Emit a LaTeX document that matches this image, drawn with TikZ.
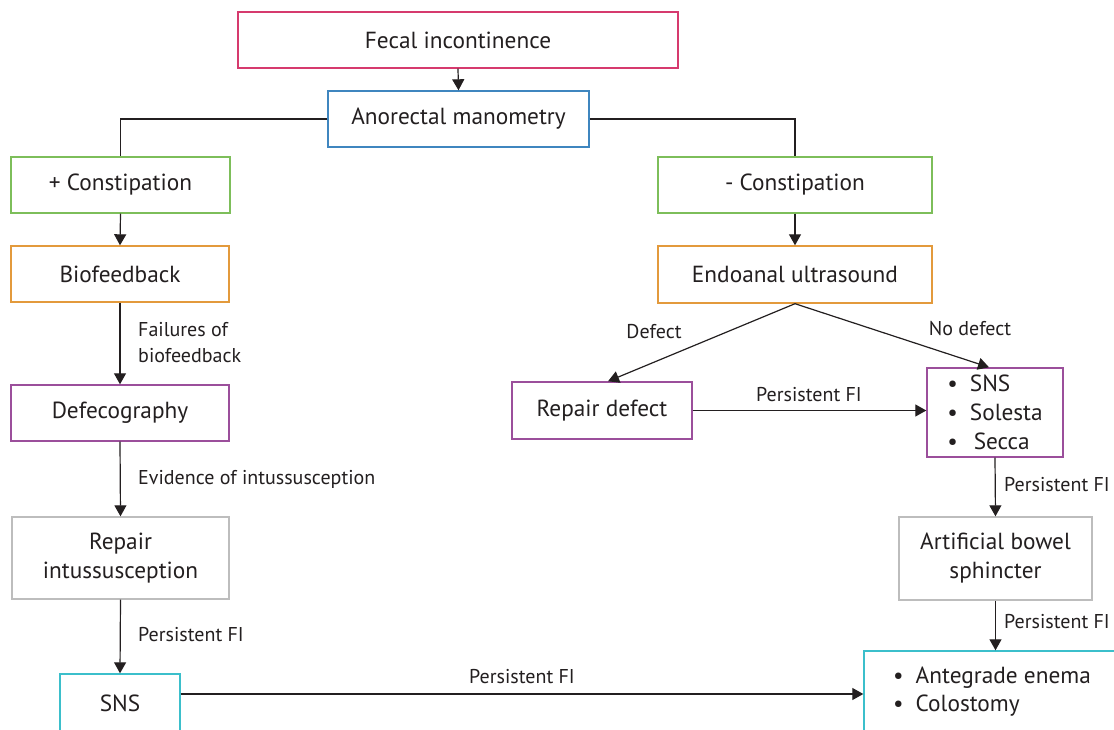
\documentclass[tikz,border=0pt]{standalone}
\usepackage{fontspec}
\setmainfont{PT Sans}
\usetikzlibrary{arrows.meta,positioning}
\definecolor{pinkc}{HTML}{D63A6E}
\definecolor{bluec}{HTML}{3F86BF}
\definecolor{greenc}{HTML}{7DBE5A}
\definecolor{orangec}{HTML}{E39A3C}
\definecolor{purplec}{HTML}{9B4F9B}
\definecolor{grayc}{HTML}{BDBDBD}
\definecolor{cyanc}{HTML}{3BBFCB}
\definecolor{txt}{HTML}{231F20}
\newcommand{\boxfont}{\fontsize{23.3}{28}\selectfont}
\newcommand{\lblfont}{\fontsize{20}{26}\selectfont}
\tikzset{
  box/.style={draw, line width=1.4pt, inner sep=0pt, align=center, font=\boxfont, text=txt, minimum height=56pt},
  lbl/.style={font=\lblfont, text=txt, inner sep=0pt, anchor=west, align=left},
  arr/.style={draw=txt, line width=1.2pt, -{Triangle[length=11pt,width=12pt]}},
  conn/.style={draw=txt, line width=1.2pt},
}
\begin{document}
\begin{tikzpicture}[x=1pt,y=-1pt]
\useasboundingbox (0,0) rectangle (1114,730);
\clip (0,0) rectangle (1114,730);
\fill[white] (0,0) rectangle (1114,730);
% nodes
\node[box, draw=pinkc, minimum width=440pt] (fecal) at (458,40) {Fecal incontinence};
\node[box, draw=bluec, minimum width=261pt] (ano) at (458.5,119) {Anorectal manometry};
\node[box, draw=greenc, minimum width=219pt] (pcon) at (120.5,185) {+ Constipation};
\node[box, draw=greenc, minimum width=274pt] (mcon) at (795,185) {- Constipation};
\node[box, draw=orangec, minimum width=218pt] (bio) at (120,274) {Biofeedback};
\node[box, draw=orangec, minimum width=274pt, minimum height=57pt] (endo) at (795,274.5) {Endoanal ultrasound};
\node[box, draw=purplec, minimum width=218pt] (defeco) at (120,413) {Defecography};
\node[box, draw=grayc, minimum width=217pt, minimum height=82pt, font=\fontsize{23.3}{29}\selectfont] (repint) at (120.5,558) {Repair\\intussusception};
\node[box, draw=cyanc, minimum width=120pt, minimum height=58pt] (sns) at (120,703) {SNS};
\node[box, draw=purplec, minimum width=180pt, minimum height=57pt] (repdef) at (602,410.5) {Repair defect};
\node[box, draw=purplec, minimum width=136pt, minimum height=89pt, align=left, font=\fontsize{23.3}{29}\selectfont] (list) at (995,412.5)
  {\textbullet\hspace{12pt}SNS\\\textbullet\hspace{12pt}Solesta\\\textbullet\hspace{12pt}\,Secca};
\node[box, draw=grayc, minimum width=193pt, minimum height=83pt, font=\fontsize{23.3}{29}\selectfont] (abs) at (995.5,558.5) {Artificial bowel\\sphincter};
\node[box, draw=cyanc, minimum width=256pt, minimum height=82pt, align=left, font=\fontsize{23.3}{28}\selectfont] (ante) at (992,692)
  {\textbullet\hspace{12pt}Antegrade enema\\\textbullet\hspace{12pt}Colostomy};
% connectors
\draw[arr] (fecal.south) -- (ano.north);
\draw[conn] (ano.west) -| (pcon.north);
\draw[conn] (ano.east) -| (mcon.north);
\draw[arr] (pcon.south) -- (bio.north);
\draw[arr] (bio.south) -- (defeco.north);
\draw[arr] (defeco.south) -- (repint.north);
\draw[arr] (repint.south) -- (sns.north);
\coordinate (ly) at (0,694);
\draw[arr] (sns.east |- ly) -- (ante.west |- ly);
\draw[arr] (mcon.south) -- (endo.north);
\draw[arr] (endo.south) -- ([xshift=6pt]repdef.north);
\draw[arr] (endo.south) -- ([xshift=-6pt]list.north);
\draw[arr] (repdef.east) -- (list.west |- repdef.east);
\draw[arr] (list.south) -- (abs.south |- abs.north);
\draw[arr] (abs.south) -- (abs.south |- ante.north);
% labels
\node[lbl] (l1) at (138,343) {Failures of\\biofeedback};
\node[lbl] (l2) at (138,479) {Evidence of intussusception};
\node[lbl] (l3) at (138,635) {Persistent FI};
\node[lbl, anchor=center] (l4) at (522,677) {Persistent FI};
\node[lbl, anchor=center] (l5) at (654,332) {Defect};
\node[lbl, anchor=center] (l6) at (970,329) {No defect};
\node[lbl, anchor=center] (l7) at (809,395) {Persistent FI};
\node[lbl] (l8) at (1004,485) {Persistent FI};
\node[lbl] (l9) at (1004,622) {Persistent FI};
\end{tikzpicture}
\end{document}
